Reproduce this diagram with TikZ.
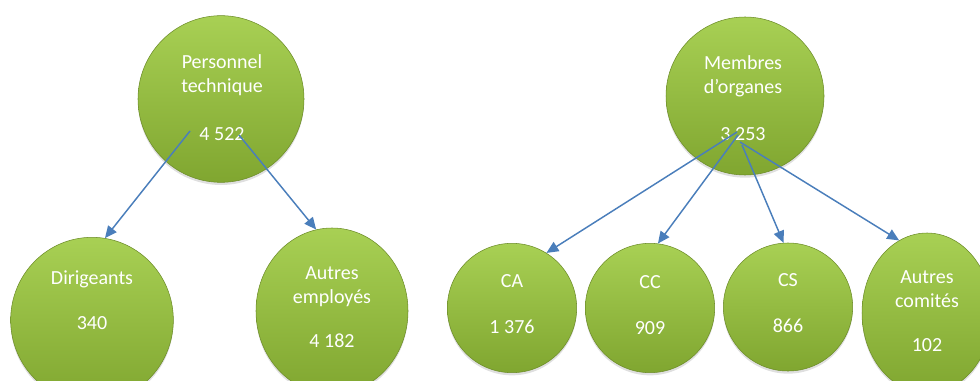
\documentclass[tikz,border=0pt]{standalone}
\usepackage{fontspec}
\setmainfont{Carlito}
\usetikzlibrary{shapes.geometric}
\usetikzlibrary{arrows.meta}
\usetikzlibrary{shadows}

\definecolor{vertclair}{RGB}{168,208,84}
\definecolor{vertfonce}{RGB}{128,166,48}
\definecolor{vertbord}{RGB}{108,140,40}
\definecolor{bleufleche}{RGB}{74,126,187}

\tikzset{
  bulle/.style={ellipse,inner sep=0pt,top color=vertclair,bottom color=vertfonce,draw=vertbord,line width=0.4pt,
    drop shadow={opacity=0.25,shadow xshift=0pt,shadow yshift=-2pt}},
  texte/.style={align=center,text=white,font=\fontsize{15}{18}\selectfont},
  fleche/.style={draw=bleufleche,line width=1.1pt,-{Triangle[length=9pt,width=8pt]}}
}

\begin{document}
\begin{tikzpicture}[x=0.75pt,y=-0.75pt]
\useasboundingbox (0,0) rectangle (980,381);

% personnel
\node[bulle,minimum width=124.5pt,minimum height=125pt] (pt) at (221,99) {};
\node[bulle,minimum width=122pt,minimum height=124pt] (dir) at (92,320) {};
\node[bulle,minimum width=114pt,minimum height=124.5pt] (ae) at (332,311) {};

% organes
\node[bulle,minimum width=118.5pt,minimum height=118.5pt] (mo) at (745,96) {};
\node[bulle,minimum width=97pt,minimum height=97pt] (ca) at (512,308) {};
\node[bulle,minimum width=97pt,minimum height=97pt] (cc) at (650,308) {};
\node[bulle,minimum width=97pt,minimum height=96pt] (cs) at (788,307) {};
\node[bulle,minimum width=97.5pt,minimum height=120pt] (ac) at (927,313) {};

\node[texte] (pt-t) at (222,98) {Personnel\\technique\\[18pt]4 522};
\node[texte] (dir-t) at (92,300) {Dirigeants\\[16pt]340};
\node[texte] (ae-t) at (332,307) {Autres\\employés\\[15pt]4 182};
\node[texte] (mo-t) at (743,98) {Membres\\d’organes\\[17pt]3 253};
\node[texte] (ca-t) at (512,304) {CA\\[16pt]1 376};
\node[texte] (cc-t) at (650,305) {CC\\[16pt]909};
\node[texte] (cs-t) at (788,303) {CS\\[16pt]866};
\node[texte] (ac-t) at (927,311) {Autres\\comités\\[15pt]102};

\coordinate (pt-g) at (190,131);
\coordinate (pt-d) at (239,135);
\coordinate (mo-1) at (737,132);
\coordinate (mo-2) at (738,135);
\coordinate (mo-3) at (742,145);
\coordinate (mo-4) at (740,142);

\draw[fleche] (pt-g) -- (dir.81);
\draw[fleche] (pt-d) -- (ae.101);
\draw[fleche] (mo-1) -- (ca.58);
\draw[fleche] (mo-2) -- (cc.83);
\draw[fleche] (mo-3) -- (cs.94);
\draw[fleche] (mo-4) -- (ac.111);

\end{tikzpicture}
\end{document}
